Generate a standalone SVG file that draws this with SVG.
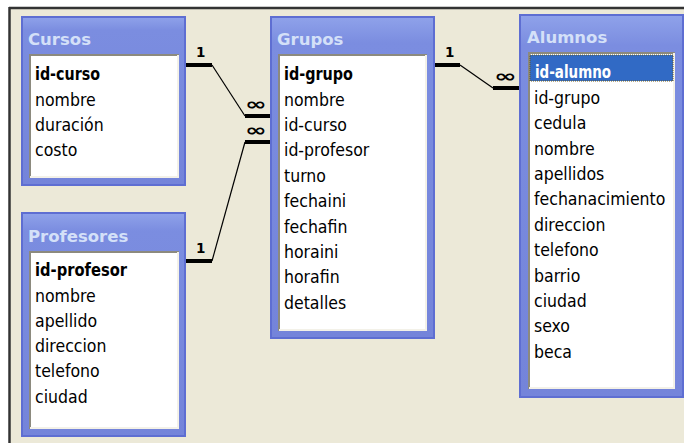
<svg xmlns="http://www.w3.org/2000/svg" width="684" height="443" viewBox="0 0 684 443">
<defs>
<linearGradient id="win" x1="0" y1="0" x2="0" y2="1">
<stop offset="0" stop-color="#8FA2EA"/>
<stop offset="0.08" stop-color="#7B8DE0"/>
<stop offset="1" stop-color="#7484DA"/>
</linearGradient>
<style>
.win{fill:url(#win);stroke:#5E6ED2;stroke-width:2}
.list{fill:#FFFFFF}
.dk{fill:none;stroke:#8C8A7E;stroke-width:2}
.lt{fill:none;stroke:#F3F1E8;stroke-width:2}
.title{font-family:"DejaVu Sans",Verdana,sans-serif;font-weight:bold;font-size:16.5px;fill:#D4E0F8}
.f{font-family:"DejaVu Sans Condensed","DejaVu Sans",sans-serif;font-size:17.5px;fill:#000}
.k{font-family:"DejaVu Sans Condensed","DejaVu Sans",sans-serif;font-size:17.5px;font-weight:bold;fill:#000}
.thick{stroke:#000;stroke-width:4;fill:none}
.thin{stroke:#000;stroke-width:1.2;fill:none}
.one{font-family:"DejaVu Sans",sans-serif;font-weight:bold;font-size:13.5px;fill:#000}
.inf{font-family:"DejaVu Sans",sans-serif;font-weight:bold;font-size:17px;fill:#000}
</style>
</defs>
<rect x="0" y="0" width="684" height="443" fill="#FFFFFF"/>
<rect x="10" y="8" width="674" height="435" fill="#ECE9D8"/>
<line x1="9" y1="8" x2="684" y2="8" stroke="#333333" stroke-width="2.5"/>
<line x1="9.5" y1="7" x2="9.5" y2="443" stroke="#333333" stroke-width="2.5"/>

<g id="connectors">
<path class="thick" d="M185 65 H212"/>
<path class="thin" d="M212 65 L245 116"/>
<path class="thick" d="M245 116 H271"/>
<text class="one" x="196" y="57">1</text>
<text class="inf" x="245" y="110" textLength="22" lengthAdjust="spacingAndGlyphs">∞</text>

<path class="thick" d="M185 261 H212"/>
<path class="thin" d="M212 261 L245 142"/>
<path class="thick" d="M245 142 H271"/>
<text class="one" x="196" y="253">1</text>
<text class="inf" x="245" y="136" textLength="22" lengthAdjust="spacingAndGlyphs">∞</text>

<path class="thick" d="M434 65 H460"/>
<path class="thin" d="M460 65 L493 88"/>
<path class="thick" d="M493 88 H520"/>
<text class="one" x="445" y="57">1</text>
<text class="inf" x="494" y="82" textLength="23" lengthAdjust="spacingAndGlyphs">∞</text>
</g>

<g id="cursos">
<rect class="win" x="22" y="17" width="163" height="168"/>
<text class="title" x="28" y="45">Cursos</text>
<rect class="list" x="29" y="54" width="150" height="124"/>
<path class="dk" d="M30 178 V55 H179"/>
<path class="lt" d="M30 177 H178 V55"/>
<text class="k" x="35" y="80" textLength="65" lengthAdjust="spacingAndGlyphs">id-curso</text>
<text class="f" x="35" y="106">nombre</text>
<text class="f" x="35" y="131">duración</text>
<text class="f" x="35" y="156">costo</text>
</g>

<g id="profesores">
<rect class="win" x="22" y="213" width="163" height="223"/>
<text class="title" x="28" y="242">Profesores</text>
<rect class="list" x="29" y="251" width="150" height="178"/>
<path class="dk" d="M30 429 V252 H179"/>
<path class="lt" d="M30 428 H178 V252"/>
<text class="k" x="35" y="276" textLength="92" lengthAdjust="spacingAndGlyphs">id-profesor</text>
<text class="f" x="35" y="302">nombre</text>
<text class="f" x="35" y="327">apellido</text>
<text class="f" x="35" y="352">direccion</text>
<text class="f" x="35" y="377">telefono</text>
<text class="f" x="35" y="403">ciudad</text>
</g>

<g id="grupos">
<rect class="win" x="271" y="17" width="163" height="321"/>
<text class="title" x="277" y="45">Grupos</text>
<rect class="list" x="278" y="54" width="149" height="277"/>
<path class="dk" d="M279 331 V55 H427"/>
<path class="lt" d="M279 330 H426 V55"/>
<text class="k" x="284" y="80" textLength="69" lengthAdjust="spacingAndGlyphs">id-grupo</text>
<text class="f" x="284" y="106">nombre</text>
<text class="f" x="284" y="131">id-curso</text>
<text class="f" x="284" y="156">id-profesor</text>
<text class="f" x="284" y="182">turno</text>
<text class="f" x="284" y="207">fechaini</text>
<text class="f" x="284" y="233">fechafin</text>
<text class="f" x="284" y="258">horaini</text>
<text class="f" x="284" y="283">horafin</text>
<text class="f" x="284" y="309">detalles</text>
</g>

<g id="alumnos">
<rect class="win" x="520" y="15" width="163" height="382"/>
<text class="title" x="527" y="43">Alumnos</text>
<rect class="list" x="528" y="52" width="147" height="337"/>
<path class="dk" d="M529 389 V53 H675"/>
<path class="lt" d="M529 388 H674 V53"/>
<rect x="530" y="55" width="143" height="26" fill="#316AC5" stroke="#6B5A1E" stroke-width="1" stroke-dasharray="1 1"/>
<text class="k" x="535" y="78" style="fill:#FFFFFF" textLength="76" lengthAdjust="spacingAndGlyphs">id-alumno</text>
<text class="f" x="534" y="104">id-grupo</text>
<text class="f" x="534" y="129">cedula</text>
<text class="f" x="534" y="155">nombre</text>
<text class="f" x="534" y="180">apellidos</text>
<text class="f" x="534" y="205">fechanacimiento</text>
<text class="f" x="534" y="231">direccion</text>
<text class="f" x="534" y="256">telefono</text>
<text class="f" x="534" y="282">barrio</text>
<text class="f" x="534" y="307">ciudad</text>
<text class="f" x="534" y="332">sexo</text>
<text class="f" x="534" y="358">beca</text>
</g>
</svg>
